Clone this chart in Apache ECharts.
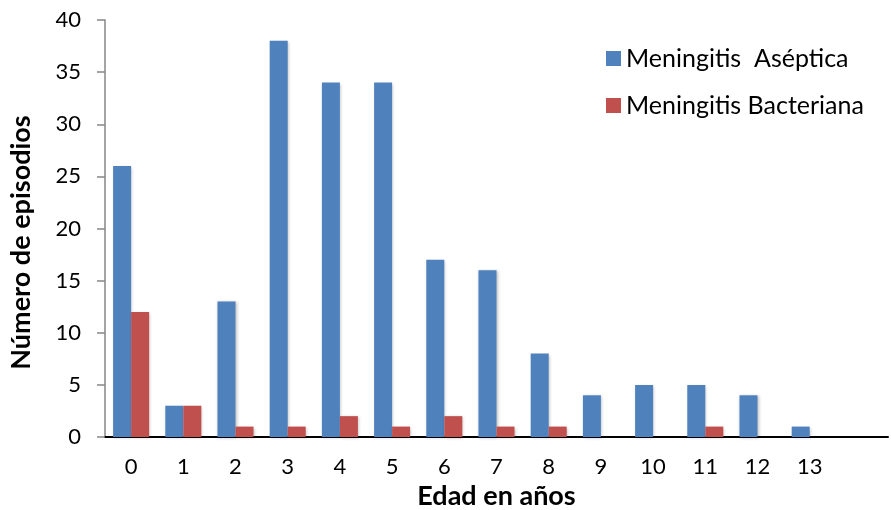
<!DOCTYPE html>
<html>
<head>
<meta charset="utf-8">
<script src="https://cdn.jsdelivr.net/npm/echarts@6/dist/echarts.min.js"></script>
<style>html,body{margin:0;padding:0;background:#fff}#c{width:891px;height:510px}</style>
</head>
<body>
<div id="c"></div>
<script>
const categories = ['0','1','2','3','4','5','6','7','8','9','10','11','12','13',''];
const aseptica = [26,3,13,38,34,34,17,16,8,4,5,5,4,1,null];
const bacteriana = [12,3,1,1,2,1,2,1,1,0,0,1,0,0,null];
const yTicks = {min:0, max:40, interval:5};
const seriesNames = ['Meningitis  Aséptica','Meningitis Bacteriana'];

const FONT = 'Lato, "Open Sans", sans-serif';
const chart = echarts.init(document.getElementById('c'), null, {renderer:'canvas'});
chart.setOption({
  animation:false,
  textStyle:{fontFamily:FONT},
  grid:{left:105, right:3, top:20, bottom:73, containLabel:false, outerBoundsMode:'none'},
  legend:{
    orient:'vertical', left:601, top:41, itemWidth:15, itemHeight:15, itemGap:22,
    textStyle:{fontSize:25, color:'#000', fontFamily:FONT},
    icon:'rect', data:seriesNames
  },
  xAxis:{
    type:'category', data:categories,
    axisLine:{lineStyle:{color:'#000', width:2}},
    axisTick:{show:false},
    axisLabel:{fontSize:22, color:'#000', margin:19, fontFamily:FONT},
    name:'Edad en años', nameLocation:'middle', nameGap:44,
    nameTextStyle:{fontSize:27, fontWeight:'bold', color:'#000', fontFamily:FONT}
  },
  yAxis:{
    type:'value', min:yTicks.min, max:yTicks.max, interval:yTicks.interval,
    splitLine:{show:false},
    axisLine:{show:true, lineStyle:{color:'#868686', width:1.5}},
    axisTick:{show:true, length:8, lineStyle:{color:'#868686', width:1.5}},
    axisLabel:{fontSize:22, color:'#000', margin:24, fontFamily:FONT},
    name:'Número de episodios', nameLocation:'middle', nameGap:70,
    nameTextStyle:{fontSize:27, fontWeight:'bold', color:'#000', fontFamily:FONT, padding:[0,28,0,0]}
  },
  series:[
    {name:seriesNames[0], type:'bar', data:aseptica, barGap:'0%', barCategoryGap:'31%',
     itemStyle:{color:'#4F81BD', shadowColor:'rgba(0,0,0,0.25)', shadowBlur:3, shadowOffsetX:1, shadowOffsetY:1}},
    {name:seriesNames[1], type:'bar', data:bacteriana, barGap:'0%', barCategoryGap:'31%',
     itemStyle:{color:'#C0504D', shadowColor:'rgba(0,0,0,0.25)', shadowBlur:3, shadowOffsetX:1, shadowOffsetY:1}}
  ]
});
</script>
</body>
</html>
